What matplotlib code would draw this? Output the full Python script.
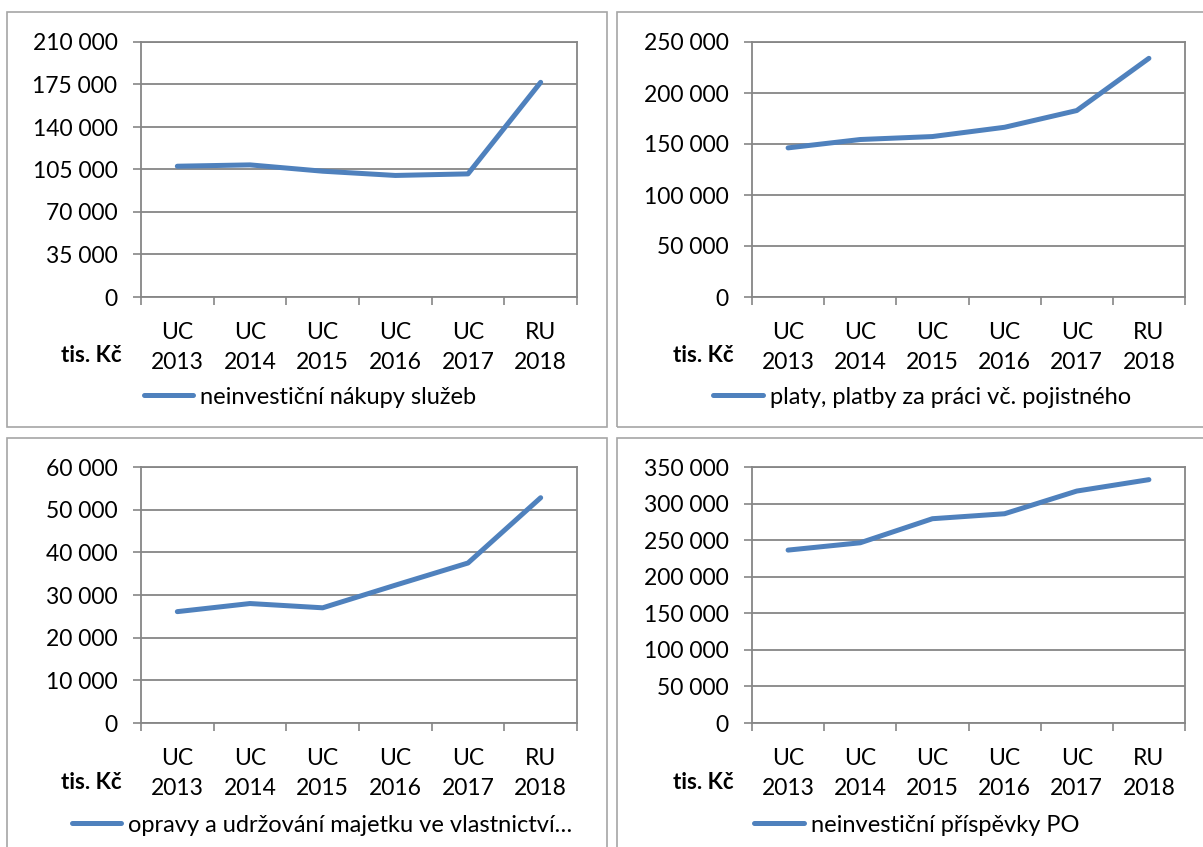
import matplotlib
matplotlib.use("Agg")
import matplotlib.pyplot as plt
from matplotlib.ticker import FuncFormatter, FixedLocator, NullFormatter
from matplotlib.patches import Rectangle

plt.rcParams['font.family'] = ['Lato', 'DejaVu Sans']

categories = ["UC\n2013", "UC\n2014", "UC\n2015", "UC\n2016", "UC\n2017", "RU\n2018"]

sluzby = [107700, 108800, 103600, 100100, 101400, 176800]
platy = [146200, 154400, 157300, 166400, 182800, 234000]
opravy = [26100, 28000, 27000, 32300, 37500, 52800]
prispevky = [236400, 246400, 279300, 286100, 317100, 332700]

names = ["neinvestiční nákupy služeb",
         "platy, platby za práci vč. pojistného",
         "opravy a udržování majetku ve vlastnictví…",
         "neinvestiční příspěvky PO"]
ymax = [210000, 250000, 60000, 350000]
ystep = [35000, 50000, 10000, 50000]
unit_label = "tis. Kč"

W, H = 1203, 847
fig = plt.figure(figsize=(W / 100, H / 100), dpi=100)

GRID = "#868686"
BLUE = "#4F81BD"
FS = 16.5
LFS = 17

layouts = [
    dict(ax=(141, 577, 42, 297), frame=(7, 607, 12, 427), leg=(310, 397), unit=(91, 355)),
    dict(ax=(752, 1185, 42, 297), frame=(617, 1227, 12, 427), leg=(922, 397), unit=(703, 355)),
    dict(ax=(141, 577, 467, 723), frame=(7, 607, 438, 860), leg=(322, 825), unit=(91, 782)),
    dict(ax=(752, 1185, 467, 723), frame=(617, 1227, 438, 860), leg=(917, 825), unit=(703, 782)),
]
series = [sluzby, platy, opravy, prispevky]

fmt = FuncFormatter(lambda v, p: f"{v:,.0f}".replace(",", " "))

for lay, vals, name, ym, st in zip(layouts, series, names, ymax, ystep):
    fx0, fx1, fy0, fy1 = lay["frame"]
    fig.add_artist(Rectangle((fx0 / W, 1 - fy1 / H), (fx1 - fx0) / W, (fy1 - fy0) / H,
                             transform=fig.transFigure, fill=False, edgecolor="#A6A6A6", lw=1.2))
    l, r, t, b = lay["ax"]
    ax = fig.add_axes([l / W, 1 - b / H, (r - l) / W, (b - t) / H])
    xs = [i + 0.5 for i in range(len(vals))]
    ax.plot(xs, vals, color=BLUE, lw=3.6, solid_capstyle="round", solid_joinstyle="round",
            label=name, zorder=3)
    ax.set_xlim(0, len(vals))
    ax.set_ylim(0, ym)
    ax.set_yticks(list(range(0, ym + 1, st)))
    ax.yaxis.set_major_formatter(fmt)
    ax.xaxis.set_major_locator(FixedLocator(list(range(len(vals) + 1))))
    ax.xaxis.set_major_formatter(NullFormatter())
    ax.xaxis.set_minor_locator(FixedLocator(xs))
    ax.set_xticklabels(categories, minor=True)
    ax.tick_params(axis="x", which="major", length=6, width=1.2, color=GRID, direction="out")
    ax.tick_params(axis="x", which="minor", length=0, pad=18, labelsize=FS, labelcolor="black")
    ax.tick_params(axis="y", length=6, width=1.2, color=GRID, pad=11, labelsize=FS)
    for lab in ax.get_xticklabels(minor=True):
        lab.set_linespacing(1.55)
        lab.set_ha("center")
    ax.grid(axis="y", color=GRID, lw=1.3)
    ax.set_axisbelow(True)
    for s in ax.spines.values():
        s.set_color(GRID)
        s.set_linewidth(1.3)
    ux, uy = lay["unit"]
    fig.text(ux / W, 1 - uy / H, unit_label, ha="center", va="center", fontsize=FS - 0.5,
             fontweight="bold")
    lx, ly = lay["leg"]
    ax.legend(loc="center", bbox_to_anchor=(lx / W, 1 - ly / H), bbox_transform=fig.transFigure,
              frameon=False, fontsize=LFS, handlelength=2.1, handletextpad=0.3,
              borderpad=0, borderaxespad=0)

fig.savefig("out.png", dpi=100)
